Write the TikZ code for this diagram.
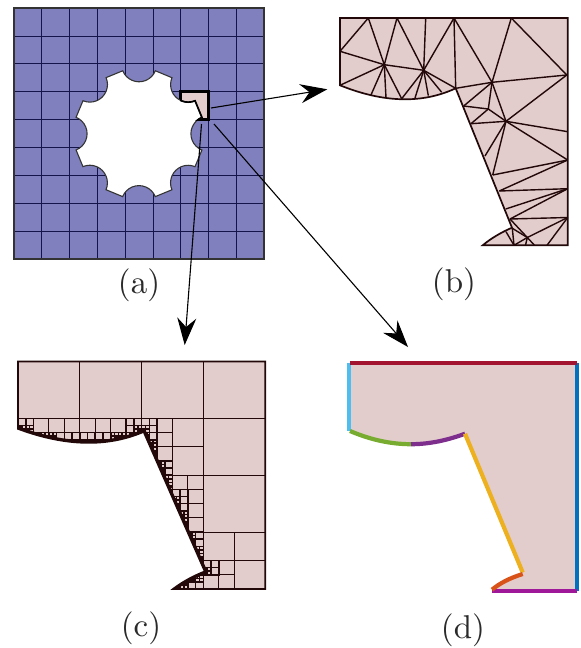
\documentclass[tikz,border=0pt]{standalone}
\usetikzlibrary{arrows.meta}
\definecolor{blockblue}{HTML}{8080BF}
\definecolor{gridnavy}{HTML}{14144A}
\definecolor{framegrey}{HTML}{333333}
\definecolor{patchpink}{HTML}{E3CCCC}
\definecolor{meshdark}{HTML}{220808}
\definecolor{labelgrey}{HTML}{2A2A2A}
\definecolor{edgered}{HTML}{A2142F}
\definecolor{edgesky}{HTML}{4DBEEE}
\definecolor{edgeblue}{HTML}{0072BD}
\definecolor{edgegreen}{HTML}{77AC30}
\definecolor{edgepurple}{HTML}{7E2F8E}
\definecolor{edgeyellow}{HTML}{EDB120}
\definecolor{edgeorange}{HTML}{D95319}
\definecolor{edgemagenta}{HTML}{A0189A}
\tikzset{
  gridline/.style={draw=gridnavy,line width=1.7pt},
  meshline/.style={draw=meshdark,line width=1.4pt},
  qline/.style={draw=meshdark,line width=1.6pt},
  outline/.style={draw=meshdark,line width=1.7pt},
  bigarrow/.style={draw=black,line width=1.1pt,-{Stealth[length=27pt,width=19pt,inset=9pt]}},
  panellabel/.style={text=labelgrey,scale=3.3,inner sep=0pt},
  coloured/.style={line width=4.2pt}
}
% the patch outline, in the pixel coordinates of panel (b)
\def\holepath{(482.7,245.3)
  .. controls (492,237.5) and (503,231.5) .. (512,227.7) -- (455.7,88.3)
  .. controls (422.3,103.9) and (383.6,102.9) .. (340,85.3)}
\def\domainpath{(340,18) -- (567.7,18) -- (567.7,245.3) -- \holepath -- cycle}
% the hole of panel (a), round its centre
\def\gearpath{(-14.5:65) arc[start angle=248,end angle=112,radius=17.6]
  \foreach \p in {45,90,...,315}{ -- (\p-14.5:65) arc[start angle=\p+248,end angle=\p+112,radius=17.6]} -- cycle}
% quadtree of panel (c)
\newcount\hcount
\newif\ifsplit
\def\testpt#1#2{%
  \pgfmathsetmacro\uu{(#1-18)/247.2}%
  \pgfmathsetmacro\vv{(#2-361.5)/227.5}%
  \pgfmathparse{(\uu<=0.508)*(\vv>0.296+0.4612*\uu-0.8575*\uu*\uu)+(\uu>0.508)*(\vv<0.922)*(\uu<0.508+0.403*(\vv-0.309))+(\uu>0.508)*(\vv>=0.922)*(\uu<0.755-1.64*(\vv-0.922))}%
  \ifdim\pgfmathresult pt>0.5pt \global\advance\hcount by 1 \fi}
\def\qcell#1#2#3#4#5{\begingroup
  \pgfmathsetmacro\xa{#1}\pgfmathsetmacro\ya{#2}%
  \pgfmathsetmacro\xb{#1+#3}\pgfmathsetmacro\yb{#2+#4}%
  \pgfmathsetmacro\xm{#1+#3/2}\pgfmathsetmacro\ym{#2+#4/2}%
  \global\hcount=0
  \testpt\xa\ya\testpt\xb\ya\testpt\xa\yb\testpt\xb\yb\testpt\xm\ym
  \pgfmathsetmacro\tipin{(\xa<=143.6)*(\xb>=143.6)*(\ya<=432)*(\yb>=432)+(\xa<=204.5)*(\xb>=204.5)*(\ya<=571)*(\yb>=571)}%
  \splitfalse
  \ifnum\hcount>0 \ifnum\hcount<5 \splittrue\fi\fi
  \ifdim\tipin pt>0.5pt \splittrue\fi
  \ifnum#5>4 \splitfalse\fi
  \ifsplit
    \pgfmathsetmacro\hw{#3/2}\pgfmathsetmacro\hh{#4/2}%
    \pgfmathtruncatemacro\nl{#5+1}%
    \qcell{\xa}{\ya}{\hw}{\hh}{\nl}%
    \qcell{\xm}{\ya}{\hw}{\hh}{\nl}%
    \qcell{\xa}{\ym}{\hw}{\hh}{\nl}%
    \qcell{\xm}{\ym}{\hw}{\hh}{\nl}%
  \else
    \ifnum#5<3
      \pgfmathsetmacro\xa{floor(\xa)+0.5}\pgfmathsetmacro\xb{floor(\xb)+0.5}%
      \pgfmathsetmacro\ya{floor(\ya)+0.5}\pgfmathsetmacro\yb{floor(\yb)+0.5}%
    \fi
    \draw[qline] (\xa,\ya) rectangle (\xb,\yb);
  \fi
\endgroup}
\begin{document}
\begin{tikzpicture}[x=1pt,y=-1pt]
\useasboundingbox (0,0) rectangle (581,648);

% ---------- panel (a)
\fill[blockblue] (13.8,8) rectangle (264.2,258.8);
\foreach \c/\d in {41.5/36.5,69.5/63.5,97.5/91.5,125.5/119.5,153.5/147.5,180.5/175.5,208.5/203.5,236.5/231.5}{
  \draw[gridline] (\c,8) -- (\c,258.8);
  \draw[gridline] (13.8,\d) -- (264.2,\d);
}
\draw[framegrey,line width=1.8pt] (13.8,8) rectangle (264.2,258.8);
\filldraw[fill=patchpink,draw=black,line width=2.1pt] (180.5,91.5) rectangle (208.5,119.5);
\begin{scope}[shift={(139,133.7)}]
  \filldraw[fill=white,draw=framegrey,line width=1.1pt] \gearpath;
\end{scope}
\begin{scope}
  \clip (180,91) rectangle (209,120);
  \begin{scope}[shift={(139,133.7)}]
    \draw[black,line width=1.7pt] \gearpath;
  \end{scope}
\end{scope}
\node[panellabel] (labela) at (139,285) {(a)};

% ---------- panel (b)
\path[fill=patchpink] \domainpath;
\foreach \n/\x/\y in {
  Ta/368.3/18,Tb/397/18,Tc/425.7/18,Td/454/18,Te/511.3/18,
  La/340/51.3,Ca/340/85.3,Cb/370.7/95.6,Cc/386/98,Cd/401.7/98.7,Ce/415/98,Cf/428.3/95.6,Cg/441.7/92.3,Ch/455.7/88.3,
  A/384.3/64.7,B/423.7/70.3,D/492/82.3,E/463.7/106,F/488.3/109,G/471/123.7,H/506/121.3,
  Ra/566.8/75,Rb/567.7/131.7,Rc/567.7/160,Rd/567.7/188.7,Re/567.7/217.5,
  Sa/485/156,Sb/492.7/175,Sc/499.3/191,Sd/505.7/209,Se/510/219,
  Pa/512.3/228.3,Pb/506/231.7,I/527.3/237.5,Ba/514/245.3,Bb/525.5/245.3,Bc/534.5/245.3,Bd/547/245.3}{
  \coordinate (\n) at (\x,\y);
}
\foreach \a/\b in {La/Ta,Ta/A,A/Tb,Tb/B,Tc/B,Td/B,La/A,A/B,A/Ca,A/Cb,A/Cc,A/Cd,B/Cd,B/Ce,B/Cf,B/Cg,B/Ch,
  Td/Ch,Td/D,Te/D,Te/Ra,Ch/D,D/Ra,D/E,E/F,D/F,F/G,F/H,D/H,G/H,H/Ra,H/Rb,H/Sa,H/Sb,H/Rc,Sb/Rc,Sc/Rc,Sc/Rd,Sd/Rd,Se/Rd,Se/Re,
  Se/I,Pa/I,Pa/Ba,Pb/Ba,Ba/I,I/Bb,I/Bc,I/Re,Re/Bd}{
  \draw[meshline] (\a) -- (\b);
}
\draw[outline] \domainpath;
\node[panellabel] (labelb) at (454,284) {(b)};

% ---------- panel (c)
\path[fill=patchpink,shift={(-351.14,343.48)},xscale=1.0857,yscale=1.001] \domainpath;
\begin{scope}
  \path[clip,shift={(-351.14,343.48)},xscale=1.0857,yscale=1.001] \domainpath;
  \foreach \i in {0,1,2,3}{
    \foreach \j in {0,1,2,3}{
      \pgfmathsetmacro\cx{18+61.8*\i}
      \pgfmathsetmacro\cy{361.5+56.875*\j}
      \qcell{\cx}{\cy}{61.8}{56.875}{0}
    }
  }
  \draw[meshdark,line width=5pt,shift={(-351.14,343.48)},xscale=1.0857,yscale=1.001] \holepath;
\end{scope}
\draw[outline,shift={(-351.14,343.48)},xscale=1.0857,yscale=1.001] \domainpath;
\node[panellabel] (labelc) at (141,628) {(c)};

% ---------- panel (d)
\path[fill=patchpink,shift={(10.6,344.97)},xscale=0.9982,yscale=1.0018] \domainpath;
\coordinate (tl) at (350,363);
\coordinate (tr) at (577.3,363);
\coordinate (br) at (577.3,590.8);
\coordinate (bb) at (492.3,590.8);
\coordinate (ll) at (349.3,430.6);
\coordinate (cl) at (350,431);
\coordinate (cm) at (411,444.2);
\coordinate (cr) at (465,433.7);
\coordinate (sb) at (522.7,572.5);
\coordinate (or) at (522.7,574);
\coordinate (ob) at (492,589.7);
\draw[coloured,edgesky] (349.3,363.3) -- (ll);
\draw[coloured,edgeblue] (tr) -- (br);
\draw[coloured,edgered] (tl) -- (tr);
\draw[coloured,edgemagenta] (bb) -- (br);
\draw[coloured,edgegreen] (cl) .. controls (370,439.5) and (390,444.2) .. (cm);
\draw[coloured,edgepurple] (cm) .. controls (430,444.2) and (448,440) .. (cr);
\draw[coloured,edgeyellow] (cr) -- (sb);
\draw[coloured,edgeorange] (or) .. controls (510,578) and (500,583) .. (ob);
\node[panellabel] (labeld) at (463,630) {(d)};

% ---------- arrows
\coordinate (arrowba) at (211,108);
\coordinate (arrowbb) at (327.3,89.3);
\coordinate (arrowda) at (214,124);
\coordinate (arrowdb) at (408,347);
\coordinate (arrowca) at (201.5,124);
\coordinate (arrowcb) at (184.7,345);
\draw[bigarrow] (arrowba) -- (arrowbb);
\draw[bigarrow] (arrowda) -- (arrowdb);
\draw[bigarrow] (arrowca) -- (arrowcb);
\end{tikzpicture}
\end{document}
